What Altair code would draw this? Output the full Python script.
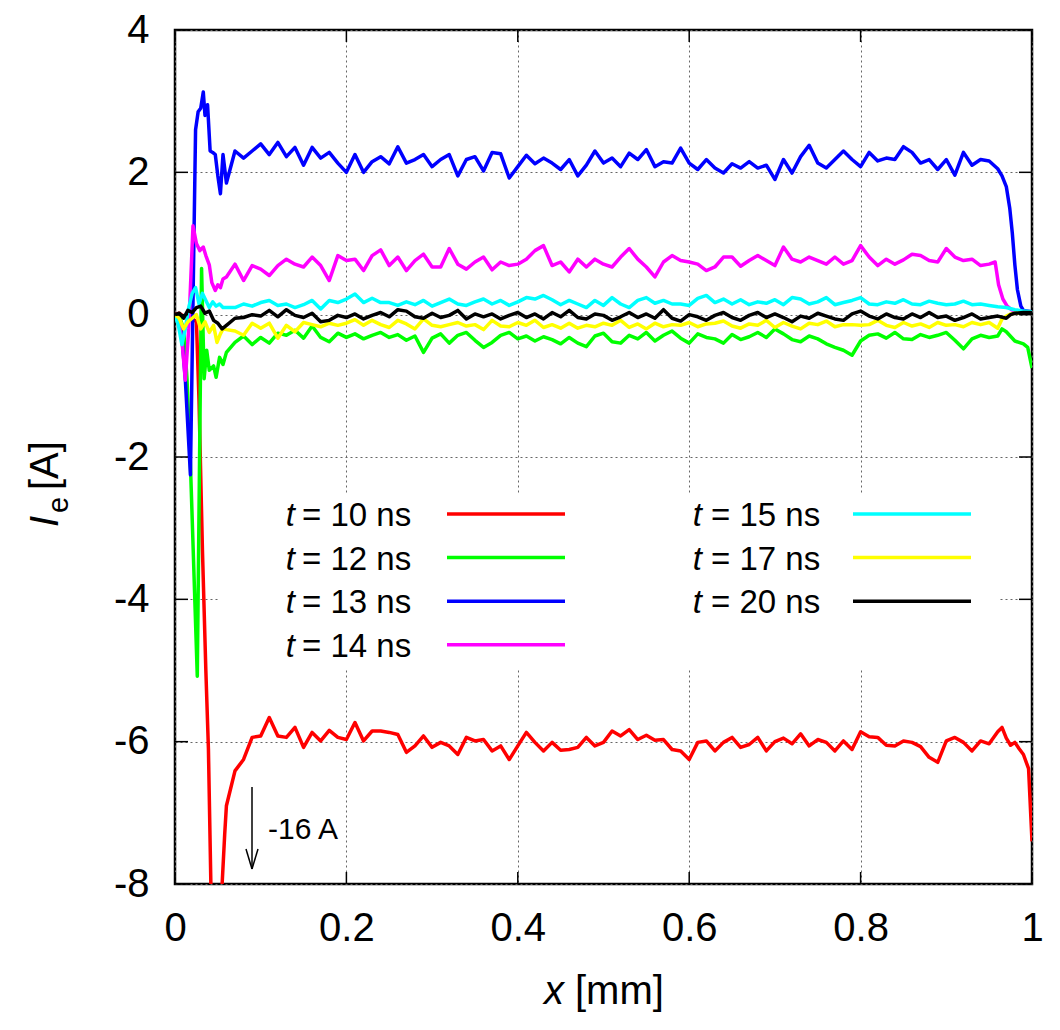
import altair as alt
import pandas as pd

# ---------------------------------------------------------------------------
# Electron current I_e along the gap (x in mm) at several instants.
# Each curve: a transient near the cathode (head), a plateau sampled every
# 0.01 mm from 0.06 to 0.95 mm (body), and the fall near the anode (tail).
# ---------------------------------------------------------------------------
x_body = [round(0.06 + 0.01 * i, 2) for i in range(90)]

t10_head = [(0.0, 0.0), (0.005, 0.02), (0.01, -0.02), (0.015, 0.0), (0.02, -0.05),
            (0.025, -0.1), (0.028, -1.2), (0.032, -3.3), (0.036, -5.0), (0.039, -6.1),
            (0.042, -8.1), (0.049, -16.0), (0.055, -8.0), (0.058, -7.3)]
t10_body = [-6.90, -6.41, -6.25, -5.94, -5.92, -5.66, -5.92, -5.94, -5.80, -6.08,
            -5.87, -5.99, -5.84, -5.94, -5.97, -5.73, -5.99, -5.85, -5.85, -5.87,
            -5.90, -6.15, -6.06, -5.92, -6.08, -6.01, -6.06, -6.18, -5.94, -5.99,
            -5.97, -6.13, -6.06, -6.25, -6.06, -5.87, -6.01, -6.13, -6.01, -6.12,
            -6.11, -6.08, -5.94, -6.06, -6.01, -5.85, -5.92, -5.83, -5.97, -5.91,
            -5.98, -5.97, -6.11, -6.13, -6.25, -6.01, -5.99, -6.13, -6.01, -5.94,
            -6.08, -6.04, -5.94, -6.13, -6.00, -5.95, -6.03, -5.89, -6.06, -5.97,
            -6.01, -6.13, -5.99, -6.11, -5.86, -5.93, -5.94, -6.05, -6.06, -5.99,
            -6.01, -6.07, -6.22, -6.29, -5.99, -5.94, -6.01, -6.13, -5.99, -6.03]
t10_tail = [(0.96, -5.86), (0.965, -5.80), (0.97, -5.95), (0.975, -6.05), (0.98, -6.01),
            (0.985, -6.10), (0.99, -6.18), (0.996, -6.38), (1.0, -7.4)]

t12_head = [(0.0, 0.0), (0.005, -0.02), (0.01, -0.2), (0.014, -0.9), (0.018, -2.1),
            (0.026, -5.08), (0.031, 0.65), (0.034, -0.9), (0.037, -0.5), (0.04, -0.78),
            (0.045, -0.72), (0.048, -0.88), (0.052, -0.6), (0.056, -0.7)]
t12_body = [-0.53, -0.39, -0.30, -0.42, -0.32, -0.40, -0.26, -0.29, -0.22, -0.33,
            -0.16, -0.32, -0.38, -0.26, -0.32, -0.27, -0.34, -0.29, -0.25, -0.32,
            -0.28, -0.36, -0.30, -0.53, -0.33, -0.27, -0.40, -0.29, -0.25, -0.36,
            -0.46, -0.39, -0.29, -0.25, -0.34, -0.30, -0.37, -0.31, -0.35, -0.41,
            -0.32, -0.40, -0.45, -0.30, -0.26, -0.38, -0.40, -0.29, -0.34, -0.25,
            -0.37, -0.29, -0.23, -0.33, -0.40, -0.27, -0.32, -0.34, -0.40, -0.28,
            -0.35, -0.31, -0.25, -0.32, -0.20, -0.27, -0.35, -0.38, -0.30, -0.34,
            -0.41, -0.46, -0.50, -0.57, -0.37, -0.29, -0.27, -0.33, -0.25, -0.34,
            -0.35, -0.28, -0.32, -0.29, -0.25, -0.36, -0.48, -0.34, -0.29, -0.32]
t12_tail = [(0.96, -0.30), (0.965, -0.20), (0.97, -0.24), (0.98, -0.37), (0.99, -0.41),
            (0.995, -0.46), (1.0, -0.75)]

t13_head = [(0.0, 0.0), (0.004, -0.05), (0.008, -0.3), (0.012, -0.9), (0.018, -2.25),
            (0.024, 2.6), (0.027, 2.85), (0.03, 2.9), (0.033, 3.13), (0.035, 2.8),
            (0.038, 2.95), (0.041, 2.3), (0.044, 2.28), (0.047, 2.25), (0.05, 1.95),
            (0.053, 1.7), (0.056, 2.25)]
t13_body = [1.85, 2.30, 2.20, 2.30, 2.40, 2.25, 2.42, 2.22, 2.35, 2.10,
            2.35, 2.20, 2.28, 2.13, 2.00, 2.25, 2.00, 2.15, 2.22, 2.12,
            2.36, 2.13, 2.18, 2.25, 2.08, 2.18, 2.25, 1.95, 2.18, 2.22,
            2.02, 2.28, 2.26, 1.92, 2.08, 2.24, 2.12, 2.20, 2.13, 2.04,
            2.18, 1.95, 2.10, 2.30, 2.13, 2.20, 2.08, 2.27, 2.18, 2.32,
            2.08, 2.15, 2.13, 2.34, 2.13, 2.04, 2.18, 2.06, 1.99, 2.12,
            2.06, 2.15, 2.06, 2.10, 1.90, 2.18, 1.99, 2.22, 2.38, 2.13,
            2.06, 2.18, 2.30, 2.18, 2.08, 2.28, 2.16, 2.20, 2.18, 2.36,
            2.28, 2.13, 2.18, 2.04, 2.18, 1.96, 2.28, 2.10, 2.18, 2.16]
t13_tail = [(0.96, 2.05), (0.965, 1.95), (0.97, 1.80), (0.974, 1.50), (0.977, 1.15),
            (0.98, 0.70), (0.983, 0.35), (0.987, 0.12), (0.99, 0.06), (1.0, 0.04)]

t14_head = [(0.0, 0.0), (0.004, -0.05), (0.008, -0.35), (0.012, -0.92), (0.016, -0.2),
            (0.021, 1.25), (0.025, 1.0), (0.029, 0.9), (0.033, 0.95), (0.036, 0.83),
            (0.04, 0.7), (0.043, 0.45), (0.047, 0.34), (0.05, 0.42), (0.053, 0.38),
            (0.056, 0.5)]
t14_body = [0.53, 0.71, 0.48, 0.69, 0.64, 0.55, 0.69, 0.78, 0.71, 0.67,
            0.81, 0.69, 0.48, 0.83, 0.76, 0.78, 0.62, 0.83, 0.91, 0.69,
            0.81, 0.62, 0.76, 0.85, 0.67, 0.67, 0.93, 0.71, 0.64, 0.74,
            0.81, 0.63, 0.74, 0.69, 0.71, 0.78, 0.90, 0.97, 0.69, 0.74,
            0.60, 0.78, 0.67, 0.78, 0.71, 0.67, 0.81, 0.93, 0.78, 0.67,
            0.53, 0.74, 0.83, 0.76, 0.74, 0.71, 0.62, 0.67, 0.81, 0.81,
            0.68, 0.76, 0.83, 0.76, 0.69, 0.95, 0.78, 0.74, 0.81, 0.76,
            0.71, 0.81, 0.71, 0.76, 0.97, 0.81, 0.69, 0.78, 0.71, 0.77,
            0.85, 0.83, 0.76, 0.74, 0.93, 0.81, 0.76, 0.78, 0.69, 0.71]
t14_tail = [(0.957, 0.74), (0.961, 0.42), (0.966, 0.22), (0.971, 0.12), (0.976, 0.07),
            (0.98, 0.05), (1.0, 0.03)]

t15_head = [(0.0, 0.0), (0.004, -0.15), (0.008, -0.42), (0.012, -0.2), (0.016, 0.1),
            (0.02, 0.3), (0.024, 0.38), (0.028, 0.15), (0.032, 0.3), (0.036, 0.2),
            (0.04, 0.1), (0.044, 0.18), (0.048, 0.12), (0.052, 0.15), (0.056, 0.1)]
t15_body = [0.10, 0.10, 0.15, 0.12, 0.17, 0.20, 0.13, 0.15, 0.10, 0.14,
            0.20, 0.08, 0.20, 0.17, 0.22, 0.29, 0.17, 0.23, 0.17, 0.17,
            0.13, 0.18, 0.14, 0.20, 0.12, 0.17, 0.22, 0.15, 0.13, 0.18,
            0.22, 0.15, 0.20, 0.13, 0.18, 0.24, 0.22, 0.27, 0.21, 0.14,
            0.20, 0.15, 0.10, 0.20, 0.13, 0.24, 0.15, 0.10, 0.20, 0.24,
            0.16, 0.20, 0.15, 0.15, 0.13, 0.23, 0.27, 0.17, 0.22, 0.15,
            0.21, 0.14, 0.18, 0.16, 0.21, 0.14, 0.24, 0.22, 0.15, 0.18,
            0.24, 0.14, 0.17, 0.20, 0.24, 0.15, 0.14, 0.18, 0.16, 0.21,
            0.15, 0.14, 0.19, 0.16, 0.14, 0.15, 0.19, 0.14, 0.15, 0.13]
t15_tail = [(0.96, 0.11), (0.97, 0.10), (0.98, 0.07), (0.99, 0.05), (1.0, 0.04)]

t17_head = [(0.0, 0.0), (0.005, -0.05), (0.01, -0.2), (0.015, -0.1), (0.02, -0.05),
            (0.025, 0.0), (0.03, -0.2), (0.035, -0.1), (0.04, -0.25), (0.045, -0.15),
            (0.049, -0.39), (0.053, -0.27), (0.056, -0.2)]
t17_body = [-0.21, -0.23, -0.29, -0.12, -0.19, -0.12, -0.33, -0.15, -0.24, -0.11,
            -0.14, -0.17, -0.12, -0.15, -0.12, -0.07, -0.15, -0.08, -0.14, -0.18,
            -0.08, -0.13, -0.20, -0.06, -0.15, -0.17, -0.14, -0.11, -0.16, -0.14,
            -0.21, -0.08, -0.16, -0.17, -0.11, -0.15, -0.08, -0.18, -0.14, -0.19,
            -0.12, -0.19, -0.15, -0.17, -0.12, -0.15, -0.08, -0.18, -0.13, -0.20,
            -0.12, -0.17, -0.14, -0.15, -0.11, -0.17, -0.13, -0.12, -0.09, -0.16,
            -0.19, -0.13, -0.15, -0.08, -0.18, -0.11, -0.16, -0.20, -0.12, -0.14,
            -0.09, -0.17, -0.14, -0.14, -0.15, -0.14, -0.08, -0.15, -0.18, -0.11,
            -0.16, -0.13, -0.18, -0.11, -0.15, -0.14, -0.17, -0.11, -0.14, -0.11]
t17_tail = [(0.96, -0.19), (0.965, -0.06), (0.97, -0.02), (0.975, 0.01), (0.98, 0.02),
            (1.0, 0.02)]

t20_head = [(0.0, 0.0), (0.005, 0.02), (0.01, -0.05), (0.015, 0.06), (0.02, 0.03),
            (0.025, 0.1), (0.03, 0.12), (0.035, 0.02), (0.04, 0.05), (0.045, -0.08),
            (0.05, -0.12), (0.055, -0.2)]
t20_body = [-0.15, -0.05, -0.04, 0.00, -0.02, 0.06, -0.03, 0.07, -0.01, -0.04,
            0.02, -0.10, -0.08, -0.01, -0.04, 0.01, -0.06, -0.01, 0.03, -0.03,
            0.07, 0.05, -0.03, -0.05, 0.02, -0.04, -0.01, 0.06, -0.06, 0.01,
            -0.03, 0.01, -0.06, -0.01, 0.03, -0.04, 0.01, -0.06, 0.03, -0.03,
            0.06, -0.04, -0.06, 0.01, -0.01, -0.08, -0.03, 0.03, -0.04, 0.01,
            -0.05, 0.07, -0.05, -0.09, 0.00, -0.03, -0.08, -0.01, 0.03, -0.04,
            -0.08, -0.01, 0.03, -0.04, 0.01, -0.04, -0.10, -0.02, -0.05, 0.02,
            -0.02, -0.06, -0.08, 0.01, 0.05, -0.02, -0.06, 0.01, -0.04, -0.06,
            0.01, -0.04, 0.03, -0.04, -0.02, -0.08, -0.04, 0.01, -0.06, -0.04]
t20_tail = [(0.96, -0.02), (0.97, -0.05), (0.975, 0.0), (0.98, 0.02), (0.99, 0.03),
            (1.0, 0.03)]

series = [
    ("10", "#ff0000", t10_head, t10_body, t10_tail),
    ("12", "#00ff00", t12_head, t12_body, t12_tail),
    ("13", "#0000ff", t13_head, t13_body, t13_tail),
    ("14", "#ff00ff", t14_head, t14_body, t14_tail),
    ("15", "#00ffff", t15_head, t15_body, t15_tail),
    ("17", "#ffff00", t17_head, t17_body, t17_tail),
    ("20", "#000000", t20_head, t20_body, t20_tail),
]

x_ticks = [0, 0.2, 0.4, 0.6, 0.8, 1]
y_ticks = [-8, -6, -4, -2, 0, 2, 4]

FONT = "Liberation Sans"
W, H = 857, 854

xs = alt.Scale(domain=[0, 1], nice=False, zero=False)
ys = alt.Scale(domain=[-8, 4], nice=False, zero=False)

axis_common = dict(labelExpr="'' + datum.value", title=None, ticks=False, tickSize=0,
                   domain=False, grid=True, gridDash=[2, 3], gridColor="#666666",
                   gridWidth=1, labelFont=FONT, labelFontSize=40, labelColor="black",
                   labelFlush=False, labelOverlap=False)
x_axis = alt.Axis(values=x_ticks, labelPadding=24, **axis_common)
y_axis = alt.Axis(values=y_ticks, labelPadding=26, **axis_common)


def curve_frame(head, body, tail):
    pts = list(head) + list(zip(x_body, body)) + list(tail)
    return pd.DataFrame({"x": [p[0] for p in pts], "y": [p[1] for p in pts],
                         "i": list(range(len(pts)))})


one = pd.DataFrame({"a": [0]})

layers = []
# invisible layer carrying the axes and grid
layers.append(
    alt.Chart(pd.DataFrame({"x": [0, 1], "y": [-8, 4]})).mark_point(opacity=0).encode(
        x=alt.X("x:Q", scale=xs, axis=x_axis), y=alt.Y("y:Q", scale=ys, axis=y_axis)))
# opaque key box, drawn over the grid
layers.append(
    alt.Chart(one).mark_rect(color="white").encode(
        x=alt.value(43), x2=alt.value(823), y=alt.value(463), y2=alt.value(638)))

for name, color, head, body, tail in series:
    layers.append(
        alt.Chart(curve_frame(head, body, tail)).mark_line(
            color=color, strokeWidth=3.5, clip=True, strokeJoin="round").encode(
            x=alt.X("x:Q", scale=xs, axis=x_axis),
            y=alt.Y("y:Q", scale=ys, axis=y_axis),
            order="i:Q"))

# key entries: two columns, four rows
key_rows = []
for k, (name, color, *_rest) in enumerate(series):
    col, row = k // 4, k % 4
    ly = 484 + 43.6 * row
    key_rows.append({
        "label": "= " + name + " ns", "color": color,
        "t_x": 120 + 407 * col, "eq_x": 127 + 409 * col,
        "l_x1": 272 + 406 * col, "l_x2": 390 + 406 * col,
        "l_y": ly, "txt_y": ly + 12,
    })
key_df = pd.DataFrame(key_rows)

layers += [
    alt.Chart(key_df).mark_rule(strokeWidth=3.5).encode(
        x=alt.X("l_x1:Q", scale=None), x2="l_x2:Q",
        y=alt.Y("l_y:Q", scale=None),
        color=alt.Color("color:N", scale=None)),
    alt.Chart(key_df).mark_text(
        text="t", font=FONT, fontSize=33, fontStyle="italic", align="right",
        baseline="alphabetic", color="black").encode(
        x=alt.X("t_x:Q", scale=None), y=alt.Y("txt_y:Q", scale=None)),
    alt.Chart(key_df).mark_text(
        font=FONT, fontSize=33, align="left", baseline="alphabetic", color="black").encode(
        x=alt.X("eq_x:Q", scale=None), y=alt.Y("txt_y:Q", scale=None), text="label:N"),
]

# inward tick marks on all four sides
xt = pd.DataFrame({"v": x_ticks})
yt = pd.DataFrame({"v": y_ticks})
tick_style = dict(color="black", strokeWidth=1.5)
layers += [
    alt.Chart(yt).mark_rule(**tick_style).encode(
        y=alt.Y("v:Q", scale=ys, axis=y_axis), x=alt.value(0), x2=alt.value(13)),
    alt.Chart(yt).mark_rule(**tick_style).encode(
        y=alt.Y("v:Q", scale=ys, axis=y_axis), x=alt.value(W - 13), x2=alt.value(W)),
    alt.Chart(xt).mark_rule(**tick_style).encode(
        x=alt.X("v:Q", scale=xs, axis=x_axis), y=alt.value(H - 12), y2=alt.value(H)),
    alt.Chart(xt).mark_rule(**tick_style).encode(
        x=alt.X("v:Q", scale=xs, axis=x_axis), y=alt.value(0), y2=alt.value(12)),
]

# arrow marking the off-scale minimum of the t = 10 ns curve
arrow_style = dict(color="black", strokeWidth=1.5)
layers += [
    alt.Chart(one).mark_rule(**arrow_style).encode(
        x=alt.value(77), y=alt.value(757), y2=alt.value(839)),
    alt.Chart(one).mark_rule(**arrow_style).encode(
        x=alt.value(71), x2=alt.value(77), y=alt.value(819), y2=alt.value(839)),
    alt.Chart(one).mark_rule(**arrow_style).encode(
        x=alt.value(83), x2=alt.value(77), y=alt.value(819), y2=alt.value(839)),
    alt.Chart(one).mark_text(text="-16 A", font=FONT, fontSize=30, align="left",
                             baseline="alphabetic", color="black").encode(
        x=alt.value(93), y=alt.value(809)),
]

# axis titles: I_e [A] (rotated) and x [mm]
layers += [
    alt.Chart(one).mark_text(text="I", font=FONT, fontSize=40, fontStyle="italic",
                             angle=270, align="left", baseline="alphabetic",
                             color="black").encode(x=alt.value(-117), y=alt.value(497)),
    alt.Chart(one).mark_text(text="e", font=FONT, fontSize=29, angle=270,
                             align="left", baseline="alphabetic",
                             color="black").encode(x=alt.value(-107), y=alt.value(483)),
    alt.Chart(one).mark_text(text="[A]", font=FONT, fontSize=40, angle=270,
                             align="left", baseline="alphabetic",
                             color="black").encode(x=alt.value(-117), y=alt.value(460)),
    alt.Chart(one).mark_text(text="x", font=FONT, fontSize=40, fontStyle="italic",
                             align="right", baseline="alphabetic",
                             color="black").encode(x=alt.value(389), y=alt.value(974)),
    alt.Chart(one).mark_text(text="[mm]", font=FONT, fontSize=40, align="left",
                             baseline="alphabetic",
                             color="black").encode(x=alt.value(400), y=alt.value(974)),
]

chart = alt.layer(*layers).properties(
    width=W, height=H,
    padding={"left": 175, "top": 30, "right": 28, "bottom": 146},
    autosize=alt.AutoSizeParams(type="none"),
    background="white",
).configure_view(stroke="black", strokeWidth=2.5).configure_text(font=FONT)

chart.save("out.html", embed_options={"renderer": "svg", "actions": False})
